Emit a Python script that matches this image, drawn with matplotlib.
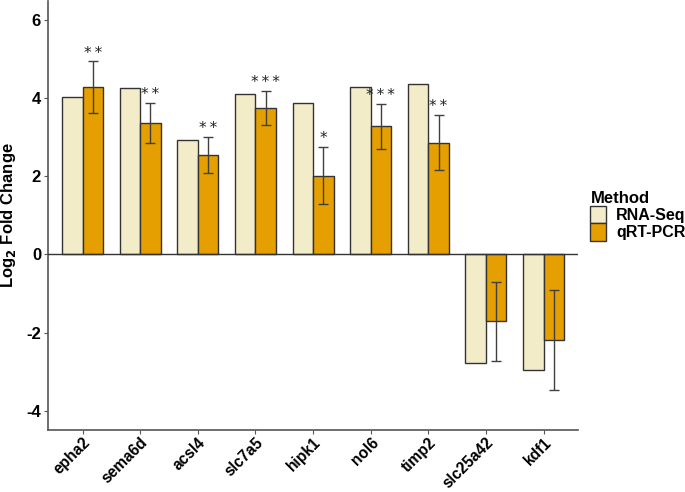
import matplotlib
matplotlib.use("Agg")
import matplotlib.pyplot as plt
import numpy as np
from matplotlib.patches import Patch

plt.rcParams['font.family'] = ['Liberation Sans', 'DejaVu Sans']

genes = ["epha2", "sema6d", "acsl4", "slc7a5", "hipk1", "nol6", "timp2", "slc25a42", "kdf1"]
rnaseq = [4.05, 4.27, 2.93, 4.12, 3.88, 4.30, 4.36, -2.78, -2.95]
qpcr = [4.29, 3.38, 2.55, 3.76, 2.02, 3.29, 2.87, -1.71, -2.20]
qpcr_err_hi = [4.95, 3.88, 3.02, 4.19, 2.76, 3.87, 3.57, -0.71, -0.92]
qpcr_err_lo = [3.63, 2.85, 2.08, 3.33, 1.29, 2.71, 2.17, -2.74, -3.48]
stars = ["**", "**", "**", "***", "*", "***", "**", "", ""]
yticks = [-4, -2, 0, 2, 4, 6]

fig = plt.figure(figsize=(6.85, 4.92), dpi=100)
ax = fig.add_axes([0.070, 0.126, 0.774, 0.872])

x = np.arange(1, len(genes) + 1)
w = 0.355
c_rna = "#F3ECC9"
c_q = "#E69F00"
edge = "#333333"

ax.bar(x - w / 2, rnaseq, width=w, color=c_rna, edgecolor=edge, linewidth=1.0, zorder=2)
ax.bar(x + w / 2, qpcr, width=w, color=c_q, edgecolor=edge, linewidth=1.0, zorder=2)

q = np.array(qpcr)
hi = np.array(qpcr_err_hi)
lo = np.array(qpcr_err_lo)
ax.errorbar(x + w / 2, q, yerr=[q - lo, hi - q], fmt='none', ecolor="#404040",
            elinewidth=1.0, capsize=3.5, capthick=1.0, zorder=3)

for xi, s, h in zip(x + w / 2, stars, hi):
    if s:
        ax.text(xi, h + 0.02, "\u2009".join(s), ha='center', va='bottom', fontsize=11,
                family=['DejaVu Sans'], color="#222222")

ax.axhline(0, color="#333333", linewidth=1.0, zorder=4)

ax.set_xlim(0.4, 9.6)
ax.set_ylim(-4.5, 6.5)
ax.set_xticks(x)
ax.set_xticklabels(genes, rotation=45, ha='right', va='top', rotation_mode='anchor',
                   fontsize=11.2, fontweight='bold')
ax.set_yticks(yticks)
ax.set_yticklabels([str(t) for t in yticks], fontsize=12, fontweight='bold')
ax.tick_params(axis='y', length=3, width=0.8, color="#555555", pad=2)
ax.tick_params(axis='x', length=3, width=0.8, color="#555555", pad=0.5)

for side in ['top', 'right']:
    ax.spines[side].set_visible(False)
for side in ['left', 'bottom']:
    ax.spines[side].set_color("#555555")
    ax.spines[side].set_linewidth(1.2)

ax.set_ylabel(r"Log$_\mathbf{2}$ Fold Change", fontsize=12, fontweight='bold', labelpad=6)

handles = [Patch(facecolor=c_rna, edgecolor=edge, label="RNA-Seq"),
           Patch(facecolor=c_q, edgecolor=edge, label="qRT-PCR")]
leg = fig.legend(handles=handles, title="Method", loc='upper left',
                 bbox_to_anchor=(0.862, 0.612), frameon=False,
                 prop={'weight': 'bold', 'size': 11.5},
                 handlelength=1.0, handleheight=1.3, handletextpad=0.6,
                 labelspacing=0.0, borderaxespad=0, borderpad=0)
leg.get_title().set_fontweight('bold')
leg.get_title().set_fontsize(12)
leg._legend_box.align = "left"

fig.savefig("out.png", dpi=100)
